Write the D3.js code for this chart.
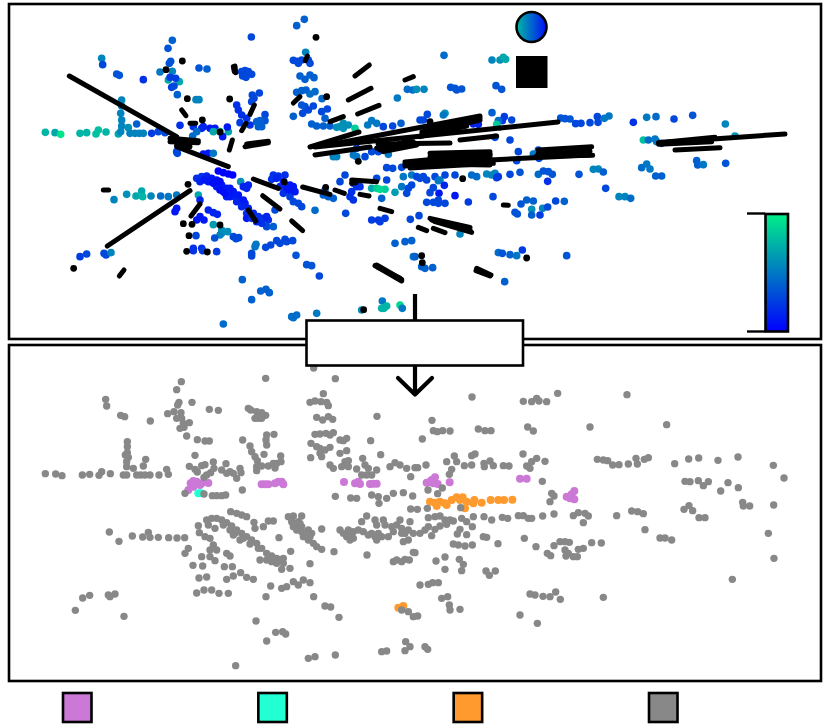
<!DOCTYPE html>
<html><head><meta charset="utf-8"><style>html,body{margin:0;padding:0;background:#fff}svg{display:block}</style>
<script src="https://cdn.jsdelivr.net/npm/d3@7"></script></head><body><div id="c"></div>
<script>
// Values, in embedding units (x, y, colour value 0..1)
const topLeftPoints=[[305,175,.55],[308,194,.3],[350,222,.35],[358,226,.35],[430,239,.2],[517,121,.4],[504,145,.35],[512,184,.35],[508,190,.35],[480,216,.5],[517,214,.55],[505,240,.7],[538,245,.7],[510,232,.25],[527,235,.25],[515,262,.25],[522,258,.3],[532,284,.4],[597,204,.35],[621,207,.4],[588,299,.55],[597,299,.55],[754,111,.3],
[725,215,.3],[735,212,.3],[745,215,.3],[755,223,.3],[728,228,.3],[738,232,.3],[890,77,.4],[913,58,.4],[917,157,.55],[880,181,.3],[892,184,.3],[905,180,.3],[925,180,.3],[930,190,.3],[895,190,.3],[900,228,.4],[915,238,.4],[930,225,.4],[942,233,.4],[890,277,.4],[905,272,.4],[918,270,.4],[930,282,.45],[945,275,.45],[966,296,.45],[905,315,.35],[915,320,.35],[940,318,.3],[908,340,.3],[925,330,.3],[880,349,.4],[965,335,.3],[982,327,.3],[1192,294,.5],[1222,268,.45],[1238,270,.45],
[136,397,.75],[165,398,.7],[182,403,.95],[240,400,.75],[260,398,.75],[288,402,.8],[295,390,.8],[318,396,.75],[355,402,.7],[365,300,.55],[365,318,.55],[362,340,.55],[365,360,.55],[365,378,.55],[362,395,.55],[385,383,.6],[390,400,.55],[405,400,.55],[418,400,.55],[430,400,.55],[410,372,.4],[455,400,.25],[475,395,.3],[495,398,.3],
[540,376,.2],[580,380,.2],[605,385,.15],[590,395,.45],[578,408,.45],[630,385,.1],[645,385,.1],[640,395,.7],[660,395,.85],[685,395,.7],[682,381,.1],[668,410,.1],[610,380,.15],[530,455,.3],[532,460,.3],[610,462,.1],[625,460,.1],[640,460,.5],[655,513,0],[670,518,0],[685,522,0],[698,525,0],
[710,315,.2],[715,330,.2],[725,345,.2],[740,355,.2],[757,285,.3],[778,279,.3],[762,295,.3],[755,305,.3],[795,344,.3],[795,362,.35],[770,365,.4],[780,362,.4],[775,380,.4],[785,380,.4],[750,375,.2],[720,368,.25],
[590,535,.2],[605,530,.2],[620,528,.15],[635,535,.1],[650,540,.1],[665,555,.1],[680,565,.1],[695,580,.1],[705,590,.15],[720,600,.15],[735,610,.15],[745,625,.15],[760,640,.15],[775,650,.2],[790,655,.2],[805,660,.2],[800,680,.3],[820,680,.4],[600,545,.15],[625,545,.1],[650,560,.1],[680,590,.1],[700,575,.1],[715,585,.1],[640,550,.05],[670,575,.1],[690,590,.1],[710,605,.15],[730,600,.1],[612,540,.1],[660,570,.05],[675,580,.05],[725,620,.15],[740,640,.2],[785,670,.2],[800,650,.15],[770,665,.15],[660,545,.05],[690,565,.1],
[722,545,.6],[745,555,.15],[730,560,.15],[740,565,.15],[820,525,.2],[835,528,.2],[855,525,.2],[815,538,.2],[850,545,.15],[870,555,.1],[880,560,.1],[875,575,.1],[850,580,.2],[870,590,.25],[880,605,.3],[895,610,.3],[905,620,.3],[860,565,.1],[840,560,.15],[830,535,.15],[865,570,.1],[885,575,.1],[945,631,.45],[1037,640,.3],[825,630,.3],
[595,585,.7],[600,600,.15],[530,625,.1],[525,635,.1],[625,630,.15],[640,638,.15],[652,643,.15],[600,650,.1],[590,660,.1],[612,660,.1],[640,674,.65],[665,700,.6],[665,690,.6],[683,695,.6],[660,705,.55],[644,714,.35],[700,710,.3],[708,716,.3],[716,713,.3],[588,707,.3],[580,745,.2],[605,745,.2],[608,752,.25],[650,755,.25],[580,752,.2],[740,655,.1],[755,655,.2],
[768,733,.5],[765,740,.5],[755,760,.3],[755,768,.3],[797,742,.3],[812,735,.3],[830,722,.3],[840,730,.3],[855,718,.3],[860,725,.3],[878,722,.3],[888,766,.35],[920,794,.35],[935,797,.35],[958,828,.3],[727,839,.4],[755,899,.4],[782,873,.4],[798,868,.4],[808,878,.4],[670,972,.45],[875,950,.45],[890,945,.45],[880,953,.45],[950,940,.5],[1085,930,.6],[1147,903,.5],[1152,925,.75],[1145,925,.75],[1160,918,.75],[1200,915,.9],[1207,925,.5],
[240,770,.25],[260,762,.3],[312,760,.3],[318,765,.3],[333,758,.55],[342,599,.55],[380,583,.6],[408,588,.7],[425,573,.7],[428,590,.75],[453,588,.55],[482,588,.45],[505,590,.5],[530,585,.5],
[975,570,.4],[985,590,.4],[1000,595,.4],[970,585,.4],[1020,545,.3],[1035,525,.3],[1050,590,.2],[1060,600,.2],[1055,575,.2],[1070,560,.2],[1080,560,.2],[1060,550,.2],[1115,565,.7],[1130,565,.85],[1155,568,.85],[1140,568,.9],[1145,595,.4],[1130,535,.3],[1160,540,.3],[1185,577,.65],[1205,560,.5],[1220,580,.3],[1225,565,.3],[1235,555,.3],[1210,530,.5],[1235,525,.5],[1160,503,.3],[1178,505,.3],[1205,502,.3],[1115,660,.25],[1135,660,.25],[1155,655,.25],[1140,665,.25],[1231,658,.3],[1185,730,.4],[1215,725,.4],[1235,722,.4],[1240,770,.5],
[935,372,.4],[950,378,.4],[970,378,.4],[990,378,.4],[975,355,.4],[1010,382,.6],[1030,370,.6],[1045,375,.6],[1030,385,.6],[1065,385,.85],[1020,380,.6],[1103,375,.5],[1115,362,.5],[1130,370,.5],[1150,380,.3],[1178,378,.3],[1203,370,.4],[1000,470,.55],[1010,470,.55],[1060,465,.5],[1070,470,.5],[1070,445,.3],[1095,470,.3],[1115,455,.3],[1135,455,.3],[1165,463,.5]];
const topRightPoints=[[87,166,.45],[231,180,.55],[255,180,.6],[265,172,.7],[272,178,.7],[243,257,.35],[260,268,.35],[5,268,.6],[27,268,.55],[107,262,.35],[120,265,.35],[125,270,.35],[140,267,.35],[37,343,.3],[15,360,.3],[25,360,.3],[90,340,.6],[85,345,.5],[231,338,.4],[268,350,.25],[262,362,.25],[290,360,.3],[250,362,.45],[245,373,.85],[175,372,.15],[190,373,.15],[140,372,.2],[285,420,.3],[240,412,.3],
[437,354,.35],[450,356,.35],[465,357,.35],[482,371,.3],[498,370,.3],[525,368,.3],[547,350,.3],[549,367,.3],[568,355,.5],[582,348,.5],[655,367,.2],[695,352,.5],[723,350,.45],[777,357,.3],[833,346,.35],[931,372,.55],[685,420,.8],[700,420,.45],[720,417,.5],[725,425,.5],[740,430,.3],[960,408,.6],[310,455,.3],[305,482,.3],[370,450,.3],[372,475,.3],[355,462,.5],[845,482,.4],[848,495,.4],[865,494,.5],[932,490,.35],[695,492,.5],[680,503,.45],[705,507,.5],[722,528,.4],[740,528,.4],
[5,530,.3],[15,535,.3],[35,540,.3],[25,530,.3],[60,530,.3],[75,540,.55],[70,542,.5],[90,525,.3],[88,556,.15],[120,525,.3],[170,525,.45],[185,530,.45],[215,522,.55],[230,525,.55],[240,520,.55],[250,530,.25],[245,533,.25],[285,523,.3],[315,517,.35],[370,523,.45],[385,513,.35],[400,515,.35],[412,523,.35],[398,544,.2],[492,523,.35],[535,508,.55],[550,507,.55],[565,516,.4],[572,565,.3],[612,590,.55],[630,590,.55],[647,595,.45],[234,590,.3],[160,606,.25],[120,587,.1],[72,580,.1],[45,578,.3],[55,563,.3],[35,607,.3],[55,607,.3],[70,610,.3],[90,610,.3],[70,600,.3],[318,612,.35],[335,600,.4],[355,603,.4],[350,628,.6],[383,625,.55],[398,621,.3],[422,603,.3],[448,604,.4],[300,637,.35],[307,642,.35],[350,645,.4],[375,645,.25],[12,647,.3],[250,758,.45],[262,760,.35],[285,764,.4],[305,767,.5],[322,750,.25],[455,767,.35],[269,845,.4],[20,800,.4],[30,805,.4],[53,803,.4],[135,702,.55],[0,770,.4]];
const topBlackDots=[[948,112],[547,183],[498,209],[562,296],[689,297],[607,360],[660,396],[564,553],[853,546],[550,671],[576,673],[660,675],[567,707],[560,754],[622,756],[221,805],[1091,929],[980,290],[1075,484],[977,562],[1388,536],[1290,365],[1580,774],[1265,767],[1267,788]];
const topSegments=[[705,198,707,218],[700,200,703,215],[545,330,558,347],[570,370,587,370],[922,168,916,182],[880,309,900,290],[750,343,763,315],[725,392,738,370],[688,450,697,420],[735,440,805,428],[740,432,805,424],[1065,228,1108,195],[1045,300,1113,265],[1073,342,1137,316],[1215,240,1240,230],[990,365,1030,350],[310,570,326,570],[573,648,600,612],[358,828,372,810],
[208,228,530,410],[510,415,595,422],[510,425,595,428],[530,435,570,440],[530,440,685,500],[570,572,322,738],[760,537,835,565],[788,587,840,627],[745,630,767,663],[875,663,908,692],[908,561,990,583],[1005,570,1033,580],[1055,540,1130,545],[1055,550,1068,548],[1080,583,1107,588],[1140,625,1175,635],[1125,797,1200,835],[1135,803,1205,843],[1130,795,1205,838],
[930,441,1077,396],[984,435,1440,348],[945,465,1110,441],[1134,432,1350,429],[1140,450,1230,420],[1130,445,1240,425],[1150,455,1250,435],[1266,396,1440,354],[1266,402,1440,360],[1260,410,1400,378],[1380,420,1490,408],[945,441,1500,384],[1500,384,1674,366],
[1215,486,1470,462],[1215,492,1470,468],[1215,498,1470,474],[1230,504,1480,490],[1260,498,1480,482],[1290,460,1470,455],[1290,470,1470,462],[1290,480,1470,478],[1290,492,1470,495],[1470,480,1770,465],[1615,450,1775,440],[1615,460,1770,453],[1610,468,1778,466],
[1976,428,2145,412],[1976,433,2135,425],[1976,428,2355,402],[2025,450,2160,443],[1290,655,1410,682],[1305,665,1415,697],[1295,660,1410,690],[1255,682,1280,692],[1300,685,1335,698],[1430,805,1473,825],[1428,812,1470,828],[1510,615,1525,616]];
const grayLeft=[[136,401],[167,402],[186,407],[247,405],[269,403],[297,406],[305,395],[331,401],[370,405],[380,405],[410,405],[422,405],[435,405],[450,405],[477,405],[500,388],[505,403],[382,305],[382,320],[382,338],[376,345],[385,352],[380,365],[380,380],[400,385],[430,378],[437,358],[317,178],[320,198],[362,226],[374,230],[451,243],[503,221],[522,215],[544,125],[530,149],[537,187],[533,195],[576,187],[543,218],[530,235],[545,235],[568,248],[550,250],[540,265],[552,262],[560,288],[592,299],[615,303],[628,303],[628,208],[655,211],[585,346],[568,379],[585,388],[592,396],[605,377],[615,374],[640,366],[642,385],[620,405],[632,398],[612,412],[678,371],[665,390],[680,400],[690,395],[700,400],[720,385],[723,398],[710,415],[728,300],[745,205],[752,210],[770,215],[785,218],[797,226],[765,235],[775,235],[785,235],[800,285],[822,283],[798,300],[800,315],[750,318],[755,335],[765,350],[772,362],[792,343],[842,348],[843,365],[830,370],[820,370],[805,378],[785,378],[770,380],[770,392],[825,384],[797,115],[1006,116],[970,161],[941,84],[930,187],[945,183],[963,185],[980,187],[985,197],[950,232],[968,240],[985,230],[998,238],[945,283],[960,282],[978,280],[990,285],[1000,278],[1020,300],[1040,295],[1030,302],[933,310],[950,320],[960,325],[975,330],[990,322],[960,340],[965,350],[932,353],[1020,340],[1040,332],[1131,229],[1112,302],[1142,344],[990,375],[1000,385],[1025,380],[1045,362],[1045,380],[1035,365],[1070,387],[1088,355],[1095,375],[1105,385],[1085,405],[1100,405],[1130,390],[1115,405],[1170,380],[1185,368],[1200,375],[1220,385],[1245,383],[1232,410],[727,450],[1006,469],[1052,474],[1070,475],[1115,465],[1135,470],[1137,490],[1160,475],[1180,460],[1210,458],[1238,468],[1232,507],[555,460],[612,462],[637,467],[650,467],[665,467],[677,465],[692,515],[710,520],[725,525],[740,530],[595,557],[620,540],[635,535],[650,535],[665,540],[680,548],[695,558],[710,570],[725,580],[740,590],[755,600],[770,610],[785,625],[800,640],[815,648],[830,655],[850,655],[780,660],[800,660],[815,665],[830,670],[850,670],[845,688],[870,685],[720,600],[700,585],[645,565],[625,555],[762,547],[765,565],[790,560],[805,543],[820,543],[837,593],[865,530],[880,528],[905,528],[875,545],[895,545],[905,560],[880,560],[890,570],[905,575],[925,570],[935,580],[910,590],[925,600],[940,610],[950,620],[965,628],[965,567],[872,634],[1002,635],[930,671],[1101,645],[1020,570],[1030,580],[1040,590],[1050,600],[1060,595],[1045,570],[1060,575],[1075,570],[1090,575],[1085,545],[1100,528],[1125,540],[1130,555],[1150,540],[1155,555],[1105,585],[1125,590],[1130,600],[1145,590],[1165,590],[1175,560],[1190,555],[1200,540],[1205,565],[1215,580],[1225,570],[1225,600],[1210,605],[1230,545],[1240,580],[1240,637],[1180,665],[1190,660],[1205,665],[1215,658],[1228,660],[328,576],[357,604],[397,588],[428,591],[445,577],[450,592],[475,592],[506,593],[531,594],[554,593],[598,578],[615,590],[630,595],[640,615],[630,630],[650,630],[680,640],[690,648],[555,640],[565,625],[605,650],[630,650],[645,662],[608,678],[579,676],[673,680],[697,680],[700,708],[722,698],[680,718],[740,712],[760,718],[597,714],[620,711],[590,759],[612,750],[635,750],[657,760],[685,760],[812,738],[798,770],[845,745],[860,740],[880,725],[895,735],[910,720],[930,728],[941,770],[975,798],[992,801],[1017,832],[768,843],[800,903],[827,877],[848,875],[857,882],[707,977],[925,955],[945,950],[1006,945],[1145,935],[1160,933],[1217,905],[1230,920],[1215,932],[1240,830],[1205,810],[1225,815],[248,774],[269,766],[325,765],[345,762],[330,770],[226,811],[372,829],[670,555],[690,570],[705,580],[730,595],[750,612],[775,625],[820,660],[840,660],[895,560],[915,580],[900,550],[930,590],[1040,580],[1055,590],[1115,580],[1135,580],[1180,575],[1205,580]];
const grayRight=[[171,171],[325,184],[350,185],[365,175],[372,183],[395,185],[428,160],[636,164],[755,254],[525,261],[338,261],[355,273],[51,241],[55,272],[67,275],[83,272],[105,273],[22,297],[190,267],[210,272],[228,272],[547,358],[565,360],[578,362],[593,375],[612,374],[640,372],[663,355],[667,372],[688,358],[700,353],[779,371],[821,357],[851,354],[909,361],[969,351],[1075,376],[1107,414],[324,342],[335,378],[345,385],[350,365],[365,355],[390,364],[118,348],[170,347],[180,342],[33,375],[8,383],[95,365],[125,365],[148,377],[170,375],[207,370],[225,363],[235,377],[208,380],[265,377],[282,378],[110,388],[103,403],[382,424],[810,424],[825,425],[850,422],[865,437],[880,425],[939,428],[917,453],[970,443],[983,487],[985,498],[1004,498],[1076,495],[1060,580],[1077,655],[952,718],[82,444],[39,450],[68,461],[410,460],[417,468],[405,485],[7,508],[37,505],[137,503],[40,533],[60,530],[75,528],[90,540],[105,540],[115,543],[140,535],[155,545],[175,530],[172,560],[207,530],[230,540],[262,532],[278,535],[310,527],[325,527],[340,535],[350,535],[383,528],[417,522],[475,527],[490,518],[510,520],[520,528],[505,548],[605,527],[650,513],[668,515],[685,521],[807,508],[822,497],[833,512],[852,533],[870,533],[690,569],[40,560],[30,570],[15,580],[60,568],[50,587],[75,558],[95,553],[135,568],[127,582],[155,584],[205,590],[215,592],[249,611],[328,595],[363,620],[435,605],[450,605],[463,607],[417,617],[530,608],[559,609],[490,628],[505,625],[450,630],[460,640],[453,648],[475,650],[487,650],[397,640],[407,647],[735,594],[750,594],[770,600],[115,612],[130,615],[150,618],[172,615],[0,638],[63,663],[90,651],[133,658],[145,673],[90,688],[140,692],[213,693],[241,693],[223,706],[15,735],[40,733],[53,728],[70,728],[98,770],[80,775],[103,795],[105,810],[135,808],[345,762],[360,765],[384,769],[405,770],[422,756],[436,778],[565,772],[315,825],[367,850],[30,920],[38,928],[8,828]];
const purpleLeft=[[572,430],[580,423],[590,425],[605,430],[625,429],[565,450],[580,440],[600,435],[785,433],[795,433],[805,433],[825,430],[835,425],[845,425],[850,433],[1032,426],[1065,430],[1075,425],[1080,432],[1110,432],[1120,431],[1130,431]];
const purpleRight=[[35,428],[45,425],[50,420],[60,412],[68,432],[55,430],[104,427],[315,416],[335,416],[455,470],[470,463],[478,453],[478,478],[465,475]];
const aquaLeft=[[595,460],[603,460]];
const orangeLeft=[[1195,803],[1210,798]];
const orangeRight=[[45,485],[60,488],[75,485],[90,490],[110,480],[125,472],[143,472],[155,485],[150,505],[178,480],[200,488],[175,490],[227,480],[250,480],[267,480],[292,479],[65,498],[95,495],[135,480]];
const legendCategories=["selected A","selected B","selected C","other"];
const categoryColors=["#cb78d6","#22ffd2","#ff9a2e","#888888"];
const colorStops=[0,1];
const colorStopHues=["#0000ff","#00f088"];
const W=830,H=726;
const xL=d3.scaleLinear().domain([0,1245]).range([0,415]);
const xR=d3.scaleLinear().domain([0,1245]).range([415,830]);
const yT=d3.scaleLinear().domain([0,1020]).range([0,340]);
const yB=d3.scaleLinear().domain([0,1158]).range([340,726]);
const color=d3.scaleLinear().domain(colorStops).range(colorStopHues);
const svg=d3.select("#c").append("svg").attr("width",W).attr("height",H);
const defs=svg.append("defs");
const g1=defs.append("linearGradient").attr("id","bar").attr("x1",0).attr("x2",0).attr("y1",1).attr("y2",0);
d3.range(0,1.01,.1).forEach(t=>g1.append("stop").attr("offset",t).attr("stop-color",color(t)));
const g2=defs.append("linearGradient").attr("id","dot");
[[0,.78],[1,.05]].forEach(([o,t])=>g2.append("stop").attr("offset",o).attr("stop-color",color(t)));
const frame=(x,y,w,h,sw)=>svg.append("rect").attr("x",x).attr("y",y).attr("width",w).attr("height",h).attr("fill","none").attr("stroke","#000").attr("stroke-width",sw);
const dots=(data,x,y,r,fill)=>svg.append("g").selectAll("circle").data(data).join("circle").attr("cx",d=>x(d[0])).attr("cy",d=>y(d[1])).attr("r",r).attr("fill",fill);
// top panel
dots(topLeftPoints,xL,yT,3.8,d=>color(d[2]));
dots(topRightPoints,xR,yT,3.8,d=>color(d[2]));
dots(topBlackDots,xL,yT,3.4,"#000");
svg.append("g").selectAll("line").data(topSegments).join("line").attr("x1",d=>xL(d[0])).attr("y1",d=>yT(d[1])).attr("x2",d=>xL(d[2])).attr("y2",d=>yT(d[3])).attr("stroke","#000").attr("stroke-width",5).attr("stroke-linecap","round");
frame(9,4,812,335,2.6);
// bottom panel: highlighted classes lie under the grey
dots(orangeLeft,xL,yB,4,categoryColors[2]);
dots(orangeRight,xR,yB,4,categoryColors[2]);
dots(purpleLeft,xL,yB,4,categoryColors[0]);
dots(purpleRight,xR,yB,4,categoryColors[0]);
dots(aquaLeft,xL,yB,4,categoryColors[1]);
dots(grayLeft,xL,yB,3.7,categoryColors[3]);
dots(grayRight,xR,yB,3.7,categoryColors[3]);
frame(9,345,812,336,2.6);
// colour legend inside top panel
svg.append("circle").attr("cx",531.5).attr("cy",27).attr("r",15).attr("fill","url(#dot)").attr("stroke","#000").attr("stroke-width",2.6);
svg.append("rect").attr("x",516).attr("y",56).attr("width",31.5).attr("height",32).attr("fill","#000");
svg.append("rect").attr("x",765.5).attr("y",214).attr("width",22.5).attr("height",117.5).attr("fill","url(#bar)").attr("stroke","#000").attr("stroke-width",2.6);
const barAxis=d3.scaleLinear().domain(colorStops).range([331.5,213.5]);
svg.append("g").selectAll("line").data(colorStops).join("line").attr("x1",747).attr("x2",765).attr("y1",d=>barAxis(d)).attr("y2",d=>barAxis(d)).attr("stroke","#000").attr("stroke-width",2.4);
// connector box and arrow
const arrow=d3.line();
svg.append("path").attr("d",arrow([[415,294],[415,320]])).attr("stroke","#000").attr("stroke-width",4.2).attr("fill","none");
svg.append("rect").attr("x",306.5).attr("y",320.5).attr("width",216.5).attr("height",45).attr("fill","#fff").attr("stroke","#000").attr("stroke-width",2.6);
svg.append("path").attr("d",arrow([[415,366],[415,394]])).attr("stroke","#000").attr("stroke-width",4.2).attr("fill","none");
svg.append("path").attr("d",arrow([[398,378],[415,394.5],[432,378]])).attr("stroke","#000").attr("stroke-width",4.2).attr("fill","none").attr("stroke-linecap","round").attr("stroke-linejoin","round");
// category legend
const legendX=d3.scalePoint().domain(legendCategories).range([62,648]);
svg.append("g").selectAll("rect").data(legendCategories).join("rect").attr("x",d=>legendX(d)+1).attr("y",693).attr("width",28.5).attr("height",29).attr("fill",(d,i)=>categoryColors[i]).attr("stroke","#000").attr("stroke-width",2.6);
</script></body></html>
